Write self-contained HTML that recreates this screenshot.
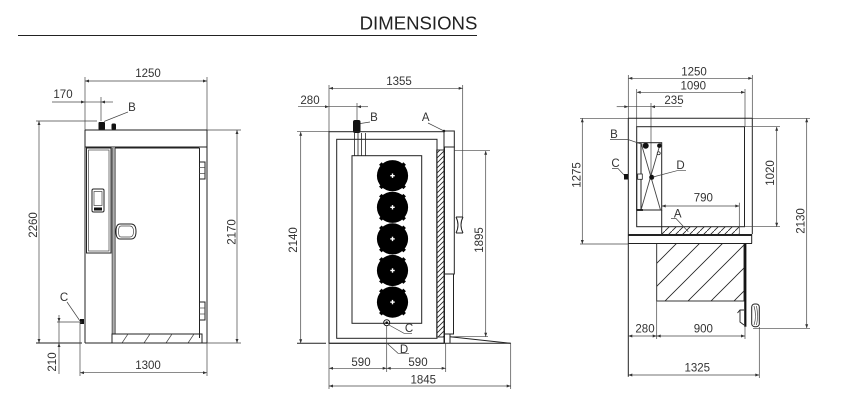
<!DOCTYPE html>
<html><head><meta charset="utf-8"><style>
html,body{margin:0;padding:0;background:#fff;}
svg{display:block;}
text{font-family:"Liberation Sans",Arial,sans-serif;fill:#333;font-size:11.5px;}
.t{font-size:18.6px;fill:#222;}
.o{stroke:#222;stroke-width:1;fill:none;}
.d{stroke:#444;stroke-width:0.7;fill:none;}
.da{stroke:#444;stroke-width:0.7;fill:none;marker-start:url(#ar);marker-end:url(#ar);}
.de{stroke:#444;stroke-width:0.7;fill:none;marker-end:url(#ar);}
.ds{stroke:#444;stroke-width:0.7;fill:none;marker-start:url(#ar);}
</style></head><body>
<svg width="855" height="415" viewBox="0 0 855 415" xmlns="http://www.w3.org/2000/svg">
<defs>
<marker id="ar" viewBox="0 0 6 6" refX="6" refY="3" markerWidth="5" markerHeight="4" orient="auto-start-reverse" markerUnits="userSpaceOnUse"><path d="M0,0.8 L6,3 L0,5.2 z" fill="#333"/></marker>
<pattern id="h1" width="5" height="5" patternUnits="userSpaceOnUse"><path d="M-1,6 L6,-1 M-1,1 L1,-1 M4,6 L6,4" stroke="#222" stroke-width="0.8"/></pattern>
<pattern id="h2" width="7" height="7" patternUnits="userSpaceOnUse"><path d="M-1,8 L8,-1" stroke="#222" stroke-width="0.8"/></pattern>
<pattern id="h3" width="23" height="23" patternUnits="userSpaceOnUse"><path d="M-1,24 L24,-1 M-2,2 L2,-2 M21,25 L25,21" stroke="#222" stroke-width="0.8"/></pattern>
<g id="fan">
<circle cx="0" cy="0" r="15.6" fill="#000"/>
<g fill="#000">
<rect x="-1.8" y="-17.2" width="3.6" height="3.6" transform="rotate(45) translate(0,0)"/>
<rect x="-1.8" y="-17.2" width="3.6" height="3.6" transform="rotate(135)"/>
<rect x="-1.8" y="-17.2" width="3.6" height="3.6" transform="rotate(225)"/>
<rect x="-1.8" y="-17.2" width="3.6" height="3.6" transform="rotate(315)"/>
</g>
<rect x="-2.2" y="-0.7" width="4.4" height="1.4" fill="#fff"/>
<rect x="-0.7" y="-2.2" width="1.4" height="4.4" fill="#fff"/>
</g>
</defs>

<!-- Title -->
<text class="t" x="418.5" y="29.3" text-anchor="middle">DIMENSIONS</text>
<line x1="18" y1="35.5" x2="477" y2="35.5" stroke="#222" stroke-width="1.1"/>

<!-- ================= LEFT VIEW ================= -->
<line class="da" x1="85" y1="81" x2="207" y2="81"/>
<text x="148" y="77" text-anchor="middle">1250</text>
<line class="d" x1="85" y1="77" x2="85" y2="130"/>
<line class="d" x1="207" y1="77" x2="207" y2="130"/>
<!-- 170 -->
<line class="de" x1="52" y1="102" x2="85" y2="102"/>
<line class="d" x1="85" y1="102" x2="101" y2="102"/>
<line class="ds" x1="101" y1="102" x2="113" y2="102"/>
<text x="63" y="98" text-anchor="middle">170</text>
<line class="d" x1="101" y1="97" x2="101" y2="121"/>
<!-- B -->
<text x="132" y="111" text-anchor="middle">B</text>
<line class="d" x1="128" y1="112" x2="104" y2="121.5"/>
<rect x="98.5" y="122" width="6.5" height="8" rx="1" fill="#111"/>
<rect x="111.5" y="123.5" width="4.5" height="6.5" rx="1.5" fill="#111"/>
<!-- 2260 -->
<line class="d" x1="36" y1="121" x2="97" y2="121"/>
<line class="da" x1="39" y1="121" x2="39" y2="343"/>
<text transform="translate(37,225) rotate(-90)" text-anchor="middle">2260</text>
<!-- top line & 2170 -->
<line class="o" x1="85" y1="130" x2="207" y2="130"/>
<line class="d" x1="207" y1="130" x2="241" y2="130"/>
<line class="da" x1="237" y1="130" x2="237" y2="343"/>
<text transform="translate(235.5,232) rotate(-90)" text-anchor="middle">2170</text>
<!-- body -->
<line class="o" x1="85" y1="130" x2="85" y2="343"/>
<line class="o" x1="207" y1="130" x2="207" y2="343"/>
<line class="o" x1="85" y1="147" x2="207" y2="147"/>
<rect class="o" x="86.5" y="148" width="24.5" height="105"/>
<rect class="d" x="88.5" y="150" width="20.5" height="101"/>
<line x1="112.6" y1="148" x2="112.6" y2="334" stroke="#777" stroke-width="2"/>
<line class="o" x1="115" y1="148" x2="115" y2="334"/>
<line class="o" x1="115" y1="148" x2="199.5" y2="148"/>
<line class="o" x1="199.5" y1="148" x2="199.5" y2="338"/>
<!-- hinges -->
<rect class="o" x="199.5" y="162" width="5.5" height="17"/>
<line class="d" x1="199.5" y1="167.5" x2="205" y2="167.5"/>
<line class="d" x1="199.5" y1="173.5" x2="205" y2="173.5"/>
<rect class="o" x="199.5" y="302" width="5.5" height="18"/>
<line class="d" x1="199.5" y1="308" x2="205" y2="308"/>
<line class="d" x1="199.5" y1="314" x2="205" y2="314"/>
<!-- display -->
<rect class="o" x="92" y="189" width="12" height="23" rx="1.5"/>
<rect class="d" x="94" y="191.5" width="8" height="14"/>
<rect x="94" y="207.5" width="8" height="3" fill="#111"/>
<!-- handle -->
<path class="o" d="M120,224 h11 q5,0 5,7.5 q0,7.5 -5,7.5 h-11 q-4,0 -4,-7.5 q0,-7.5 4,-7.5 z"/>
<path class="d" d="M121,226 h9 q3.5,0 3.5,5.5 q0,5.5 -3.5,5.5 h-9 q-2.5,0 -2.5,-5.5 q0,-5.5 2.5,-5.5 z"/>
<!-- base -->
<rect class="o" x="112" y="334" width="90" height="9"/>
<path class="d" d="M122,343 L128,334 M144,343 L150,334 M166,343 L172,334 M188,343 L194,334"/>
<!-- floor -->
<line class="o" x1="36" y1="343" x2="82" y2="343"/>
<line class="o" x1="85" y1="343" x2="207" y2="343"/>
<line class="d" x1="207" y1="343" x2="241" y2="343"/>
<!-- C -->
<text x="64" y="301" text-anchor="middle">C</text>
<line class="d" x1="67" y1="302" x2="80" y2="321"/>
<rect x="80" y="319" width="4" height="5" fill="#111"/>
<!-- 210 -->
<line class="d" x1="57" y1="322" x2="82" y2="322"/>
<line class="de" x1="59" y1="315" x2="59" y2="322"/>
<line class="d" x1="59" y1="322" x2="59" y2="343"/>
<line class="ds" x1="59" y1="343" x2="59" y2="374"/>
<text transform="translate(56,362) rotate(-90)" text-anchor="middle">210</text>
<line class="d" x1="80" y1="322" x2="80" y2="376"/>
<line class="d" x1="207" y1="343" x2="207" y2="376"/>
<line class="da" x1="80" y1="372.7" x2="207" y2="372.7"/>
<text x="148" y="369" text-anchor="middle">1300</text>

<!-- ================= MIDDLE VIEW ================= -->
<line class="da" x1="329" y1="88.3" x2="462.7" y2="88.3"/>
<text x="399" y="85" text-anchor="middle">1355</text>
<line class="d" x1="329" y1="85" x2="329" y2="131.7"/>
<line class="d" x1="462.7" y1="85" x2="462.7" y2="217"/>
<!-- 280 -->
<line class="de" x1="298" y1="106.7" x2="329" y2="106.7"/>
<line class="d" x1="329" y1="106.7" x2="357" y2="106.7"/>
<line class="ds" x1="357" y1="106.7" x2="368" y2="106.7"/>
<text x="310" y="104" text-anchor="middle">280</text>
<line class="d" x1="357" y1="103" x2="357" y2="121"/>
<!-- B -->
<rect x="353" y="120" width="7.5" height="13" rx="2" fill="#111"/>
<text x="374" y="121" text-anchor="middle">B</text>
<line class="d" x1="370" y1="122" x2="360.5" y2="123.5"/>
<!-- top + 2140 -->
<line class="d" x1="297" y1="131.7" x2="329" y2="131.7"/>
<line class="da" x1="300.7" y1="131.7" x2="300.7" y2="343.3"/>
<text transform="translate(297,240) rotate(-90)" text-anchor="middle">2140</text>
<!-- A -->
<text x="425.7" y="121" text-anchor="middle">A</text>
<line class="d" x1="428" y1="123" x2="444" y2="131"/>
<circle cx="444" cy="131" r="1.3" fill="#111"/>
<!-- boxes -->
<rect class="o" x="329" y="131.7" width="115" height="211.6"/>
<rect class="o" x="336.7" y="139.3" width="100.3" height="199"/>
<rect class="o" x="352" y="155.7" width="69.7" height="167.6"/>
<path class="o" d="M354.5,133 V155.7 M358,133 V155.7 M361.5,133 V155.7 M365.5,133 V155.7" style="stroke-width:0.8"/>
<!-- fans -->
<use href="#fan" x="392.5" y="175.7"/>
<use href="#fan" x="392.5" y="207.3"/>
<use href="#fan" x="392.5" y="238.9"/>
<use href="#fan" x="392.5" y="270.5"/>
<use href="#fan" x="392.5" y="302.1"/>
<!-- hatched wall -->
<rect x="436.7" y="150" width="7.6" height="187" fill="url(#h1)" stroke="#222" stroke-width="0.9"/>
<!-- door side -->
<rect class="o" x="444" y="131" width="10.3" height="16"/>
<rect class="o" x="444.5" y="147" width="9.8" height="127"/>
<rect class="o" x="444.5" y="274" width="9" height="60"/>
<line class="o" x1="444.5" y1="334" x2="444.5" y2="343.3"/>
<line class="d" x1="454.3" y1="150.7" x2="490" y2="150.7"/>
<!-- side handle -->
<path class="o" d="M456,217 q4,8 0,16 M463,217 q-4,8 0,16 M456,217 h7 M456,233 h7"/>
<!-- 1895 -->
<line class="da" x1="485.7" y1="150.7" x2="485.7" y2="336.7"/>
<text transform="translate(483,240) rotate(-90)" text-anchor="middle">1895</text>
<!-- ramp -->
<line class="o" x1="450" y1="336.7" x2="510.7" y2="343.3"/>
<line class="d" x1="450" y1="336.7" x2="488" y2="336.7"/>
<line class="o" x1="450" y1="334" x2="450" y2="343.3"/>
<!-- floor -->
<line class="o" x1="297" y1="343.3" x2="326" y2="343.3"/>
<line class="o" x1="329" y1="343.3" x2="510.7" y2="343.3"/>
<!-- C -->
<circle cx="386.7" cy="322.7" r="3" fill="none" stroke="#111" stroke-width="1"/>
<circle cx="386.7" cy="322.7" r="1.3" fill="#111"/>
<path class="d" d="M389,325 L404,333.3 H412"/>
<text x="409" y="332" text-anchor="middle">C</text>
<!-- D -->
<line class="d" x1="386.7" y1="325.7" x2="386.7" y2="372"/>
<path class="d" d="M387,343.3 L398,353.3 H409"/>
<text x="404" y="353" text-anchor="middle">D</text>
<!-- 590 / 1845 -->
<line class="da" x1="329" y1="368.3" x2="386.7" y2="368.3"/>
<line class="da" x1="386.7" y1="368.3" x2="445.7" y2="368.3"/>
<text x="361" y="366" text-anchor="middle">590</text>
<text x="418" y="366" text-anchor="middle">590</text>
<line class="d" x1="329" y1="343.3" x2="329" y2="389"/>
<line class="d" x1="445.7" y1="343.3" x2="445.7" y2="372"/>
<line class="d" x1="510.7" y1="343.3" x2="510.7" y2="389"/>
<line class="da" x1="329" y1="386" x2="510.7" y2="386"/>
<text x="423.3" y="383.3" text-anchor="middle">1845</text>

<!-- ================= RIGHT VIEW ================= -->
<line class="da" x1="628.3" y1="78.3" x2="752.3" y2="78.3"/>
<text x="694" y="75.7" text-anchor="middle">1250</text>
<line class="da" x1="636.7" y1="92.3" x2="745" y2="92.3"/>
<text x="693.3" y="89.3" text-anchor="middle">1090</text>
<line class="de" x1="616.7" y1="106.7" x2="628.3" y2="106.7"/>
<line class="d" x1="628.3" y1="106.7" x2="651" y2="106.7"/>
<line class="ds" x1="651" y1="106.7" x2="681.7" y2="106.7"/>
<text x="674" y="104" text-anchor="middle">235</text>
<line class="d" x1="628.3" y1="75" x2="628.3" y2="118.3"/>
<line class="d" x1="752.3" y1="75" x2="752.3" y2="118.3"/>
<line class="d" x1="636.7" y1="89" x2="636.7" y2="126.7"/>
<line class="d" x1="745" y1="89" x2="745" y2="126.7"/>
<line class="d" x1="651" y1="103" x2="651" y2="177"/>
<!-- top line -->
<line class="d" x1="580" y1="118.3" x2="628.3" y2="118.3"/>
<line class="o" x1="628.3" y1="118.3" x2="752.3" y2="118.3"/>
<line class="d" x1="752.3" y1="118.3" x2="810" y2="118.3"/>
<!-- outer box -->
<line class="o" x1="628.3" y1="118.3" x2="628.3" y2="376.7"/>
<line class="o" x1="752.3" y1="118.3" x2="752.3" y2="234"/>
<rect class="o" x="636.7" y="126.7" width="107.8" height="100"/>
<!-- 1020 -->
<line class="d" x1="744.5" y1="126.7" x2="780" y2="126.7"/>
<line class="d" x1="744.5" y1="226.7" x2="780" y2="226.7"/>
<line class="da" x1="776.7" y1="126.7" x2="776.7" y2="226.7"/>
<text transform="translate(774,173) rotate(-90)" text-anchor="middle">1020</text>
<!-- 2130 -->
<line class="da" x1="806.7" y1="118.3" x2="806.7" y2="328.3"/>
<text transform="translate(804.7,221) rotate(-90)" text-anchor="middle">2130</text>
<line class="d" x1="753" y1="328.3" x2="810" y2="328.3"/>
<!-- 1275 -->
<line class="da" x1="582.3" y1="118.3" x2="582.3" y2="244"/>
<text transform="translate(580.5,175) rotate(-90)" text-anchor="middle">1275</text>
<line class="d" x1="580" y1="244" x2="628.3" y2="244"/>
<!-- evaporator panel -->
<rect class="o" x="636.7" y="142.7" width="25" height="67.3"/>
<line class="o" x1="641" y1="142.7" x2="641" y2="210"/>
<path class="d" d="M641,142.7 L660.5,210 M660.5,142.7 L641,210" style="stroke-width:0.9"/>
<line x1="636.7" y1="210" x2="643" y2="210" stroke="#111" stroke-width="1.8"/>
<line class="o" x1="661.7" y1="210" x2="661.7" y2="235"/>
<circle cx="645.7" cy="145.7" r="3" fill="#111"/>
<circle cx="659.3" cy="145.7" r="2.2" fill="#111"/>
<circle cx="658.7" cy="153.3" r="1.5" fill="#fff" stroke="#111" stroke-width="0.7"/>
<path class="d" d="M610,139.5 H628 L642.5,144.5"/>
<text x="614" y="138" text-anchor="middle">B</text>
<circle cx="651.7" cy="177.3" r="2.5" fill="#111"/>
<path class="d" d="M653,177 L677,170.7 H686"/>
<text x="680.5" y="169" text-anchor="middle">D</text>
<path class="d" d="M612,168.5 H618 L625,176"/>
<text x="615.5" y="167" text-anchor="middle">C</text>
<rect x="624" y="174" width="4" height="5.5" fill="#111"/>
<rect x="637.7" y="174" width="4.6" height="5.3" fill="#fff" stroke="#222" stroke-width="0.8"/>
<!-- 790 -->
<line class="da" x1="661.7" y1="206" x2="739.3" y2="206"/>
<text x="703.3" y="201.7" text-anchor="middle">790</text>
<line class="d" x1="739.3" y1="202.7" x2="739.3" y2="234"/>
<!-- A hatch -->
<rect x="661.7" y="226.7" width="77.6" height="7.6" fill="url(#h2)" stroke="none"/>
<path class="d" d="M671,218.5 H676 L688.3,231.7"/>
<text x="677.7" y="217.5" text-anchor="middle">A</text>
<!-- base slab -->
<line x1="628.3" y1="235" x2="752" y2="235" stroke="#222" stroke-width="2"/>
<line class="o" x1="628.3" y1="243.5" x2="752" y2="243.5"/>
<line class="o" x1="751.7" y1="234" x2="751.7" y2="243.5"/>
<!-- lower hatched -->
<rect x="656.7" y="243.5" width="87.3" height="57.5" fill="url(#h3)" stroke="#222" stroke-width="0.9"/>
<line x1="745.3" y1="243.5" x2="745.3" y2="326.7" stroke="#111" stroke-width="2.2"/>
<!-- handle & hook -->
<rect class="o" x="751.7" y="304" width="7.6" height="22.7" rx="3"/>
<path class="d" d="M754,306 q3,10 0,19 M756.5,306 q2,10 0,19"/>
<path class="o" d="M744,310 h-4 l-2.5,3 M740,310 v12 l4,3" style="stroke-width:0.9"/>
<!-- bottom dims -->
<line class="d" x1="656.7" y1="301" x2="656.7" y2="339"/>
<line class="d" x1="745" y1="327" x2="745" y2="339"/>
<line class="da" x1="628.3" y1="336" x2="656.7" y2="336"/>
<line class="da" x1="656.7" y1="336" x2="745" y2="336"/>
<text x="645" y="332.7" text-anchor="middle">280</text>
<text x="703.3" y="332.7" text-anchor="middle">900</text>
<line class="d" x1="759.3" y1="327" x2="759.3" y2="378"/>
<line class="da" x1="628.3" y1="375" x2="759.3" y2="375"/>
<text x="697.3" y="371.7" text-anchor="middle">1325</text>
</svg>
</body></html>
